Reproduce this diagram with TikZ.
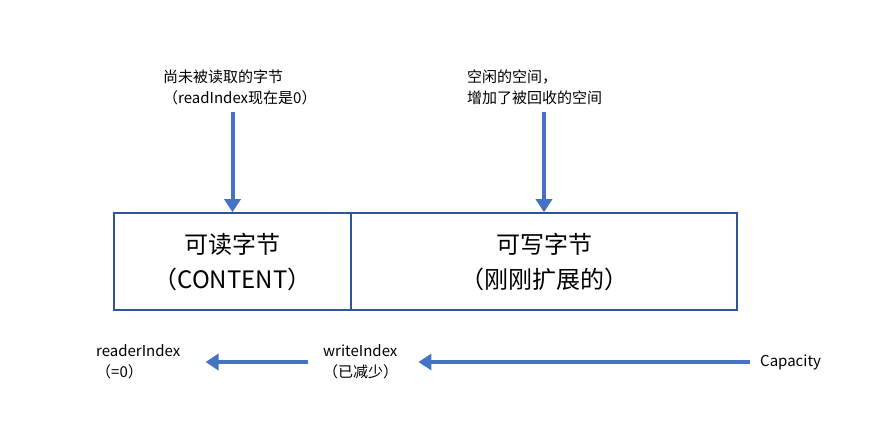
\documentclass[tikz,border=0pt]{standalone}
\usepackage{fontspec}
\setmainfont{Noto Sans CJK SC}
\usepackage{tikz}
\usetikzlibrary{arrows.meta}

\definecolor{boxblue}{HTML}{2F5597}
\definecolor{arrowblue}{HTML}{4472C4}

\tikzset{
  cell/.style={draw=boxblue, line width=1.6pt, minimum height=97pt, inner sep=0pt,
    align=center, font=\fontsize{24}{35}\selectfont},
  note/.style={inner sep=0pt, align=left, anchor=west, font=\fontsize{15}{21}\selectfont},
  bigarrow/.style={draw=arrowblue, line width=4pt, -{Triangle[length=13pt,width=16pt]}}
}

\begin{document}
\begin{tikzpicture}[x=1pt,y=-1pt]
\useasboundingbox (0,0) rectangle (888,439);

\node[cell, minimum width=237pt] (readable) at (232.5,261.5) {可读字节\\（CONTENT）};
\node[cell, minimum width=386pt] (writable) at (544,261.5) {可写字节\\（刚刚扩展的）};

\node[note] (unread) at (163,87) {尚未被读取的字节\\（readIndex现在是0）};
\node[note] (free) at (467,87) {空闲的空间，\\增加了被回收的空间};
\coordinate (unreadtail) at (readable.north |- 0,112);
\coordinate (freetail) at (writable.north |- 0,112);
\draw[bigarrow] (unreadtail) -- (readable.north);
\draw[bigarrow] (freetail) -- (writable.north);

\node[note] (readeridx) at (96,362) {readerIndex\\（=0）};
\node[note] (writeidx) at (323,362) {writeIndex\\（已减少）};
\node[note] (capacity) at (760,362) {Capacity};
\draw[bigarrow] ([xshift=-15pt]writeidx.west) -- ([xshift=25pt]readeridx.east);
\draw[bigarrow] ([xshift=-10pt]capacity.west) -- ([xshift=20pt]writeidx.east);
\end{tikzpicture}
\end{document}
